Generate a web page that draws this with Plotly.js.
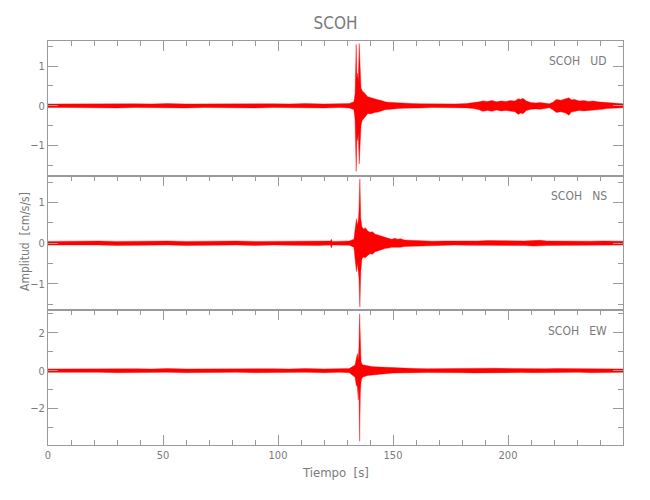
<!DOCTYPE html>
<html>
<head>
<meta charset="utf-8">
<script src="https://cdn.plot.ly/plotly-3.0.1.min.js"></script>
<style>
  html, body { margin: 0; padding: 0; background: #ffffff; }
  #chart { width: 650px; height: 500px; }
</style>
</head>
<body>
<div id="chart"></div>
<script>
// ---- Data (envelope of each trace: time [s], upper, lower amplitude [cm/s/s]) ----
const stationName = "SCOH";
const componentLabels = ["UD", "NS", "EW"];

const udT = [0, 8, 15, 22, 30, 38, 45, 52, 60, 68,
             75, 82, 90, 98, 105, 112, 120, 127, 131, 133.0,
             133.5, 134.0, 134.3, 134.6, 134.9, 135.3, 135.7, 136.1, 136.6, 137.2,
             138, 139, 140.5, 142, 143.5, 145, 146.5, 148, 150, 152.5,
             155, 158, 162, 167, 172, 177, 182, 185, 187.5, 189,
             191, 193, 195, 197, 199, 201, 203, 204.5, 205.5, 206.5,
             208, 210, 212, 214, 216, 218, 219.5, 221, 223, 225,
             226.5, 227.5, 229, 231, 233, 235, 237, 239, 241, 243,
             245, 247.5, 250];
const udHi = [0.045, 0.05, 0.045, 0.055, 0.045, 0.05, 0.045, 0.055, 0.045, 0.05,
              0.045, 0.055, 0.045, 0.05, 0.045, 0.055, 0.045, 0.05, 0.055, 0.1,
              0.3, 1.55, 0.7, 0.82, 0.6, 1.57, 0.91, 0.45, 0.38, 0.35,
              0.3, 0.23, 0.2, 0.18, 0.15, 0.13, 0.1, 0.09, 0.08, 0.07,
              0.06, 0.055, 0.05, 0.045, 0.05, 0.045, 0.055, 0.07, 0.1, 0.12,
              0.11, 0.13, 0.1, 0.12, 0.11, 0.13, 0.12, 0.18, 0.16, 0.19,
              0.12, 0.08, 0.07, 0.08, 0.07, 0.05, 0.09, 0.16, 0.14, 0.17,
              0.2, 0.15, 0.16, 0.12, 0.13, 0.11, 0.12, 0.1, 0.09, 0.07,
              0.06, 0.055, 0.05];
const udLo = [-0.045, -0.045, -0.05, -0.045, -0.055, -0.045, -0.05, -0.045, -0.055, -0.045,
              -0.05, -0.045, -0.055, -0.045, -0.05, -0.045, -0.055, -0.045, -0.055, -0.1,
              -0.35, -1.66, -0.8, -0.88, -0.7, -1.47, -0.88, -0.5, -0.37, -0.33,
              -0.28, -0.2, -0.2, -0.17, -0.16, -0.13, -0.1, -0.09, -0.08, -0.07,
              -0.06, -0.05, -0.055, -0.045, -0.045, -0.05, -0.055, -0.07, -0.1, -0.14,
              -0.12, -0.14, -0.11, -0.13, -0.12, -0.14, -0.15, -0.22, -0.18, -0.2,
              -0.12, -0.09, -0.08, -0.09, -0.07, -0.05, -0.1, -0.17, -0.15, -0.18,
              -0.24, -0.16, -0.15, -0.12, -0.13, -0.12, -0.12, -0.1, -0.09, -0.07,
              -0.06, -0.055, -0.05];

const nsT = [0, 8, 15, 22, 30, 38, 45, 52, 60, 68,
             75, 82, 90, 98, 105, 112, 118, 122.8, 123.2, 123.6,
             128, 131, 133, 133.6, 134.1, 134.5, 134.9, 135.2, 135.6, 136.0,
             136.5, 137.2, 138, 139, 140, 141, 142.3, 143.5, 145, 146.5,
             148, 149.5, 150.8, 152, 153.3, 155, 158, 162, 167, 172,
             177, 182, 187, 191, 195, 199, 203, 207, 211, 214,
             217, 221, 226, 231, 236, 241, 246, 250];
const nsHi = [0.045, 0.05, 0.045, 0.055, 0.045, 0.05, 0.045, 0.055, 0.045, 0.05,
              0.045, 0.055, 0.045, 0.05, 0.045, 0.055, 0.045, 0.055, 0.1, 0.045,
              0.05, 0.055, 0.1, 0.35, 0.6, 0.45, 0.55, 0.8, 1.58, 0.6,
              0.4, 0.35, 0.38, 0.3, 0.27, 0.28, 0.22, 0.2, 0.17, 0.15,
              0.12, 0.1, 0.12, 0.1, 0.11, 0.08, 0.07, 0.06, 0.05, 0.055,
              0.05, 0.045, 0.055, 0.065, 0.06, 0.055, 0.05, 0.055, 0.065, 0.07,
              0.055, 0.05, 0.055, 0.045, 0.05, 0.055, 0.045, 0.05];
const nsLo = [-0.045, -0.045, -0.05, -0.045, -0.055, -0.045, -0.05, -0.045, -0.055, -0.045,
              -0.05, -0.045, -0.055, -0.045, -0.05, -0.045, -0.055, -0.045, -0.12, -0.045,
              -0.055, -0.05, -0.1, -0.4, -0.7, -0.5, -0.6, -0.85, -1.57, -0.7,
              -0.38, -0.34, -0.36, -0.3, -0.26, -0.27, -0.21, -0.18, -0.16, -0.13,
              -0.12, -0.1, -0.11, -0.1, -0.1, -0.08, -0.07, -0.06, -0.055, -0.05,
              -0.045, -0.05, -0.055, -0.065, -0.055, -0.06, -0.055, -0.055, -0.07, -0.065,
              -0.055, -0.055, -0.05, -0.045, -0.055, -0.05, -0.045, -0.045];

const ewT = [0, 8, 15, 22, 30, 38, 45, 52, 60, 68,
             75, 82, 90, 98, 105, 112, 120, 127, 131, 133.5,
             134.0, 134.5, 134.9, 135.2, 135.5, 135.8, 136.1, 136.5, 137, 138,
             139, 140.5, 142, 144, 146, 148, 150, 153, 156, 160,
             165, 170, 175, 180, 185, 189, 193, 197, 201, 206,
             211, 216, 221, 226, 231, 236, 241, 246, 250];
const ewHi = [0.09, 0.1, 0.09, 0.11, 0.09, 0.1, 0.09, 0.11, 0.09, 0.1,
              0.09, 0.11, 0.09, 0.1, 0.09, 0.11, 0.09, 0.1, 0.11, 0.3,
              0.64, 0.9, 0.6, 1.25, 3.0, 0.7, 0.5, 0.35, 0.3, 0.29,
              0.25, 0.22, 0.2, 0.19, 0.17, 0.15, 0.13, 0.12, 0.11, 0.11,
              0.1, 0.11, 0.1, 0.11, 0.12, 0.14, 0.13, 0.12, 0.11, 0.1,
              0.11, 0.1, 0.11, 0.1, 0.11, 0.09, 0.1, 0.09, 0.09];
const ewLo = [-0.09, -0.09, -0.1, -0.09, -0.11, -0.09, -0.1, -0.09, -0.11, -0.09,
              -0.1, -0.09, -0.11, -0.09, -0.1, -0.09, -0.11, -0.09, -0.11, -0.35,
              -0.76, -0.85, -1.55, -0.9, -3.72, -1.2, -0.6, -0.4, -0.33, -0.3,
              -0.25, -0.22, -0.2, -0.18, -0.17, -0.15, -0.13, -0.12, -0.11, -0.11,
              -0.1, -0.11, -0.1, -0.11, -0.12, -0.14, -0.13, -0.12, -0.11, -0.1,
              -0.11, -0.1, -0.11, -0.1, -0.09, -0.11, -0.09, -0.1, -0.09];

const xTickVals = [0, 50, 100, 150, 200];

// ---- Build traces ----
const FONT = "'DejaVu Sans Condensed', 'Liberation Sans Narrow', sans-serif";
const TXT = "#7a7a7a";
const AX = "#9a9a9a";
const RED = "#ff0000";

function band(t, hi, lo, xa, ya, name) {
  const rt = t.slice().reverse();
  const rl = lo.slice().reverse();
  return {
    type: "scatter", mode: "lines", name: name,
    x: t.concat(rt), y: hi.concat(rl),
    xaxis: xa, yaxis: ya,
    fill: "toself", fillcolor: RED,
    line: { color: RED, width: 0.4 },
    hoverinfo: "skip"
  };
}

const data = [
  band(udT, udHi, udLo, "x3", "y3", componentLabels[0]),
  band(nsT, nsHi, nsLo, "x2", "y2", componentLabels[1]),
  band(ewT, ewHi, ewLo, "x", "y", componentLabels[2])
];

function xAxis(anchor, bottom) {
  return {
    anchor: anchor, domain: [0, 1], range: [0, 250],
    side: bottom ? "bottom" : "top",
    showline: true, linecolor: AX, linewidth: 1,
    mirror: bottom ? "ticks" : true,
    ticks: "inside", ticklen: 10, tickcolor: AX, tickwidth: 1,
    tickmode: "array", tickvals: xTickVals,
    showticklabels: bottom,
    tickfont: { family: FONT, size: 11, color: TXT },
    minor: { dtick: 10, tick0: 0, ticks: "inside", ticklen: 5, tickcolor: AX, showgrid: false },
    showgrid: false, zeroline: false, fixedrange: true
  };
}
function yAxis(anchor, domain, range, dtick) {
  return {
    anchor: anchor, domain: domain, range: range,
    showline: true, linecolor: AX, linewidth: 1, mirror: "ticks",
    ticks: "inside", ticklen: 10, tickcolor: AX, tickwidth: 1,
    dtick: dtick, tick0: 0,
    tickfont: { family: FONT, size: 11, color: TXT },
    minor: { dtick: dtick / 2, tick0: 0, ticks: "inside", ticklen: 5, tickcolor: AX, showgrid: false },
    showgrid: false, zeroline: false, fixedrange: true
  };
}

const annFont = { family: FONT, size: 12, color: TXT };

const layout = {
  width: 650, height: 500,
  margin: { l: 48, r: 27, t: 41, b: 55, pad: 0 },
  paper_bgcolor: "#ffffff", plot_bgcolor: "#ffffff",
  showlegend: false,
  title: {
    text: stationName,
    font: { family: FONT, size: 17, color: TXT },
    x: 0.5, xref: "paper", y: 1 - 23 / 500, yref: "container", yanchor: "middle"
  },
  xaxis: xAxis("y", true),
  xaxis2: xAxis("y2", false),
  xaxis3: xAxis("y3", false),
  yaxis: yAxis("x", [0, 1 / 3], [-3.92, 3.18], 2),
  yaxis2: yAxis("x2", [1 / 3, 2 / 3], [-1.65, 1.66], 1),
  yaxis3: yAxis("x3", [2 / 3, 1], [-1.765, 1.635], 1),
  annotations: [
    { text: stationName + "\u00a0\u00a0\u00a0" + componentLabels[0], xref: "paper", yref: "paper",
      x: 0.9757, y: (445 - 61) / 404, xanchor: "right", yanchor: "middle", showarrow: false, font: annFont },
    { text: stationName + "\u00a0\u00a0\u00a0" + componentLabels[1], xref: "paper", yref: "paper",
      x: 0.9757, y: (445 - 196) / 404, xanchor: "right", yanchor: "middle", showarrow: false, font: annFont },
    { text: stationName + "\u00a0\u00a0\u00a0" + componentLabels[2], xref: "paper", yref: "paper",
      x: 0.9757, y: (445 - 331) / 404, xanchor: "right", yanchor: "middle", showarrow: false, font: annFont },
    { text: "Tiempo\u00a0\u00a0[s]", xref: "paper", yref: "paper",
      x: 0.5, y: (445 - 472) / 404, xanchor: "center", yanchor: "middle", showarrow: false,
      font: { family: FONT, size: 13, color: TXT } },
    { text: "Amplitud\u00a0\u00a0[cm/s/s]", xref: "paper", yref: "paper",
      x: (25 - 48) / 575, y: (445 - 242) / 404, xanchor: "center", yanchor: "middle", showarrow: false,
      textangle: -90, font: { family: FONT, size: 12, color: TXT } }
  ]
};

Plotly.newPlot("chart", data, layout, { staticPlot: true, displayModeBar: false });
</script>
</body>
</html>
